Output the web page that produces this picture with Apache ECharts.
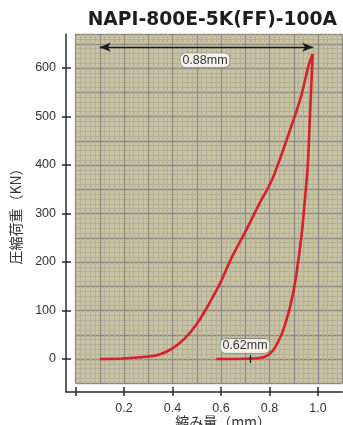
<!DOCTYPE html>
<html><head><meta charset="utf-8">
<script src="https://cdn.jsdelivr.net/npm/echarts@6/dist/echarts.min.js"></script>
<style>html,body{margin:0;padding:0;background:#fff}#c{width:343px;height:425px}</style>
</head><body><div id="c"></div>
<script>
// ---- data ----
const titleText = 'NAPI-800E-5K(FF)-100A';
const xName = '縮み量（mm）';
const yName = '圧縮荷重（KN）';
const xTicks = [0, 0.2, 0.4, 0.6, 0.8, 1.0];
const xTickLabels = [0.2, 0.4, 0.6, 0.8, 1.0];
const yTicks = [0, 100, 200, 300, 400, 500, 600];
const loadX = [0.10, 0.20, 0.30, 0.35, 0.40, 0.45, 0.50, 0.55, 0.60, 0.64, 0.70, 0.76, 0.81, 0.87, 0.93, 0.96, 0.978];
const loadY = [0, 1, 5, 10, 22, 42, 72, 113, 160, 205, 262, 322, 369, 451, 541, 603, 629];
const unloadX = [0.978, 0.972, 0.965, 0.958, 0.946, 0.933, 0.919, 0.905, 0.885, 0.857, 0.835, 0.815, 0.79, 0.77, 0.74, 0.65, 0.58];
const unloadY = [629, 560, 480, 400, 328, 259, 204, 156, 108, 60, 35, 18, 7, 3, 1, 0, 0];
const arrowX = [0.10, 0.98];
const arrowY = 643;
const noteX = [0.534, 0.699];
const noteY = [616, 27];
const noteText = ['0.88mm', '0.62mm'];
const markerX = 0.72;
const markerY = [-8, 8];

// ---- layout ----
const W = 343, H = 425;
const pxPerX = 242.5, pxPerY = 0.485;
const x0px = 75.5, y0px = 359;
const bgXMin = 0, bgXMax = 1.1, bgYMin = -50, bgYMax = 670;
const axisLeftPx = 66, axisBottomPx = 392;
const mainXMin = -(x0px - axisLeftPx) / pxPerX;
const mainYMin = -(axisBottomPx - y0px) / pxPerY;
const rightPad = W - (x0px + bgXMax * pxPerX);
const topPad = y0px - bgYMax * pxPerY;

const chart = echarts.init(document.getElementById('c'), null, {renderer: 'canvas'});
const fontF = '"Liberation Sans", Arial, sans-serif';
const cjkF = '"Noto Sans CJK JP", "Liberation Sans", sans-serif';
const axisCol = '#2a2a2a';

chart.setOption({
  animation: false,
  backgroundColor: '#ffffff',
  title: {
    text: titleText, right: 1, top: 6,
    textStyle: {fontFamily: '"DejaVu Sans", sans-serif', fontWeight: 'bold', fontSize: 18.7, color: '#1e1e1e'}
  },
  grid: [
    {left: axisLeftPx, right: rightPad, top: topPad, bottom: H - axisBottomPx,
     containLabel: false, outerBoundsMode: 'none'},
    {left: x0px, right: rightPad, top: topPad, bottom: H - (y0px - bgYMin * pxPerY),
     containLabel: false, outerBoundsMode: 'none',
     show: true, backgroundColor: '#cac3a1', borderWidth: 0}
  ],
  xAxis: [
    {type: 'value', gridIndex: 0, min: mainXMin, max: bgXMax, position: 'bottom',
     axisLine: {show: true, onZero: false, lineStyle: {color: axisCol, width: 1.5}},
     axisTick: {show: true, customValues: xTicks, length: 4, lineStyle: {color: axisCol, width: 1.5}},
     axisLabel: {show: true, customValues: xTickLabels, margin: 10, fontFamily: fontF, fontSize: 12.5, color: '#333',
       formatter: v => v.toFixed(1)},
     splitLine: {show: false},
     name: xName, nameLocation: 'middle', nameGap: 23, nameMoveOverlap: false,
     nameTextStyle: {fontFamily: cjkF, fontSize: 14, color: '#333', padding: [0, 0, 0, 38]}},
    {type: 'value', gridIndex: 0, min: mainXMin, max: bgXMax, position: 'bottom',
     axisLine: {show: false, onZero: false},
     axisTick: {show: true, inside: true, customValues: xTicks, length: 5, lineStyle: {color: axisCol, width: 1.5}},
     axisLabel: {show: false}, splitLine: {show: false}},
    {type: 'value', gridIndex: 1, min: bgXMin, max: bgXMax, interval: 0.1,
     axisLine: {show: false, onZero: false}, axisTick: {show: false}, axisLabel: {show: false},
     minorTick: {show: false, splitNumber: 5},
     splitLine: {show: true, lineStyle: {color: '#8d8d86', width: 1.3}},
     minorSplitLine: {show: true, lineStyle: {color: '#b1b09e', width: 1}}}
  ],
  yAxis: [
    {type: 'value', gridIndex: 0, min: mainYMin, max: bgYMax, position: 'left',
     axisLine: {show: true, onZero: false, lineStyle: {color: axisCol, width: 1.5}},
     axisTick: {show: true, customValues: yTicks, length: 4, lineStyle: {color: axisCol, width: 1.5}},
     axisLabel: {show: true, customValues: yTicks, margin: 10, fontFamily: fontF, fontSize: 12.5, color: '#333'},
     splitLine: {show: false},
     name: yName, nameLocation: 'middle', nameGap: 43, nameRotate: 90, nameMoveOverlap: false,
     nameTextStyle: {fontFamily: cjkF, fontSize: 14, color: '#333'}},
    {type: 'value', gridIndex: 0, min: mainYMin, max: bgYMax, position: 'left',
     axisLine: {show: false, onZero: false},
     axisTick: {show: true, inside: true, customValues: yTicks, length: 5, lineStyle: {color: axisCol, width: 1.5}},
     axisLabel: {show: false}, splitLine: {show: false}},
    {type: 'value', gridIndex: 1, min: bgYMin, max: bgYMax, interval: 50,
     axisLine: {show: false, onZero: false}, axisTick: {show: false}, axisLabel: {show: false},
     minorTick: {show: false, splitNumber: 5},
     splitLine: {show: true, lineStyle: {color: '#8d8d86', width: 1.3}},
     minorSplitLine: {show: true, lineStyle: {color: '#b1b09e', width: 1}}}
  ],
  series: [
    {type: 'line', xAxisIndex: 0, yAxisIndex: 0, smooth: 0.35, showSymbol: false, symbol: 'none',
     data: loadX.map((x, i) => [x, loadY[i]]),
     lineStyle: {color: '#d71f2d', width: 2.6}, z: 3,
     markLine: {silent: true, animation: false, label: {show: false},
       data: [
         [{coord: [arrowX[0], arrowY], symbol: 'arrow', symbolSize: [7, 11], symbolRotate: 90},
          {coord: [arrowX[1], arrowY], symbol: 'arrow', symbolSize: [7, 11]}],
         [{coord: [markerX, markerY[0]], symbol: 'none'}, {coord: [markerX, markerY[1]], symbol: 'none'}]
       ],
       lineStyle: {color: '#1a1a1a', width: 1.3, type: 'solid'}}},
    {type: 'line', xAxisIndex: 0, yAxisIndex: 0, smooth: 0.35, showSymbol: false, symbol: 'none',
     data: unloadX.map((x, i) => [x, unloadY[i]]),
     lineStyle: {color: '#d71f2d', width: 2.6}, z: 3},
    {type: 'scatter', xAxisIndex: 0, yAxisIndex: 0, symbolSize: 0, z: 5,
     data: noteX.map((x, i) => ({value: [x, noteY[i]], name: noteText[i]})),
     label: {show: true, position: 'inside', formatter: p => p.name,
       fontFamily: fontF, fontSize: 12.5, color: '#000',
       backgroundColor: '#ffffff', borderColor: '#666', borderWidth: 0.6, borderRadius: 5, padding: [1, 2, 0, 2]}}
  ]
});
</script></body></html>
